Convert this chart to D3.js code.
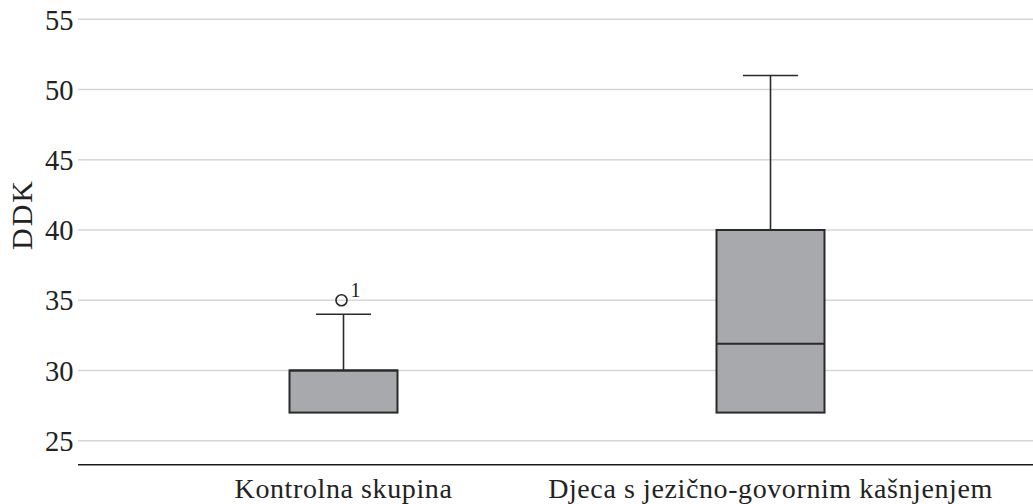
<!DOCTYPE html>
<html><head><meta charset="utf-8">
<script src="https://cdn.jsdelivr.net/npm/d3@7"></script>
<style>body{margin:0;background:#fff}svg{display:block}
svg text{font-family:"Liberation Serif","Times New Roman",Times,"DejaVu Serif",serif;}</style>
</head><body>
<script>
const categories = ["Kontrolna skupina", "Djeca s jezično-govornim kašnjenjem"];
const q1 = [27, 27];
const median = [30, 31.9];
const q3 = [30, 40];
const whiskerLow = [27, 27];
const whiskerHigh = [34, 51];
const outliers = [[{v: 35, label: "1"}], []];
const yTicks = [25, 30, 35, 40, 45, 50, 55];
const yLabel = "DDK";

const W = 1033, H = 504;
const svg = d3.select("body").append("svg").attr("width", W).attr("height", H);

const y = d3.scaleLinear().domain([23.29, 55]).range([464.7, 19.3]);
const x = d3.scaleBand().domain(categories).range([130, 984]);
const cx = c => x(c) + x.bandwidth() / 2;
const boxW = 108, capW = 55;

// gridlines
svg.append("g").selectAll("line").data(yTicks).join("line")
  .attr("x1", 78).attr("x2", W).attr("y1", d => y(d)).attr("y2", d => y(d))
  .attr("stroke", "#d6d6d6").attr("stroke-width", 1.6);

// y axis labels
const yAxis = d3.axisLeft(y).tickValues(yTicks).tickSize(0).tickPadding(0);
const gy = svg.append("g").attr("transform", "translate(73.5,0)").call(yAxis);
gy.attr("font-family", null);
gy.select(".domain").remove();
gy.selectAll("text").attr("font-size", 28.5).attr("fill", "#222").attr("dy", "0.34em");

// baseline
svg.append("line").attr("x1", 78).attr("x2", W).attr("y1", y(23.29)).attr("y2", y(23.29))
  .attr("stroke", "#1a1a1a").attr("stroke-width", 1.5);

// x axis labels
const xAxis = d3.axisBottom(x).tickSize(0).tickPadding(0);
const gx = svg.append("g").attr("transform", "translate(0,498)").call(xAxis);
gx.attr("font-family", null);
gx.select(".domain").remove();
gx.selectAll("text").attr("font-size", 28).attr("fill", "#222").attr("dy", 0)
  .style("letter-spacing", "0.6px");

// y label
svg.append("text").attr("transform", `translate(32,${y(41.1)}) rotate(-90)`)
  .attr("text-anchor", "middle").attr("font-size", 30).attr("fill", "#222")
  .style("letter-spacing", "2px")
  .text(yLabel);

const data = categories.map((c, i) => ({c, q1: q1[i], med: median[i], q3: q3[i], lo: whiskerLow[i], hi: whiskerHigh[i], out: outliers[i]}));
const g = svg.append("g").selectAll("g").data(data).join("g");
const stroke = "#2a2a2a";
// whiskers
g.append("line").attr("x1", d => cx(d.c)).attr("x2", d => cx(d.c))
  .attr("y1", d => y(d.hi)).attr("y2", d => y(d.q3)).attr("stroke", stroke).attr("stroke-width", 1.6);
g.append("line").attr("x1", d => cx(d.c) - capW / 2).attr("x2", d => cx(d.c) + capW / 2)
  .attr("y1", d => y(d.hi)).attr("y2", d => y(d.hi)).attr("stroke", stroke).attr("stroke-width", 1.6);
g.filter(d => d.lo < d.q1).append("line").attr("x1", d => cx(d.c)).attr("x2", d => cx(d.c))
  .attr("y1", d => y(d.q1)).attr("y2", d => y(d.lo)).attr("stroke", stroke).attr("stroke-width", 1.6);
// box
g.append("rect").attr("x", d => cx(d.c) - boxW / 2).attr("width", boxW)
  .attr("y", d => y(d.q3)).attr("height", d => y(d.q1) - y(d.q3))
  .attr("fill", "#a8a9ac").attr("stroke", stroke).attr("stroke-width", 2);
g.append("line").attr("x1", d => cx(d.c) - boxW / 2).attr("x2", d => cx(d.c) + boxW / 2)
  .attr("y1", d => y(d.med)).attr("y2", d => y(d.med)).attr("stroke", stroke).attr("stroke-width", 2);
// outliers
g.each(function(d) {
  const s = d3.select(this);
  s.selectAll("circle").data(d.out).join("circle")
    .attr("cx", cx(d.c) - 2).attr("cy", o => y(o.v)).attr("r", 5.5)
    .attr("fill", "none").attr("stroke", stroke).attr("stroke-width", 1.6);
  s.selectAll("text.ol").data(d.out).join("text").attr("class", "ol")
    .attr("x", cx(d.c) + 7).attr("y", o => y(o.v) - 3)
    .attr("font-size", 20).attr("fill", "#222").text(o => o.label);
});
</script>
</body></html>
